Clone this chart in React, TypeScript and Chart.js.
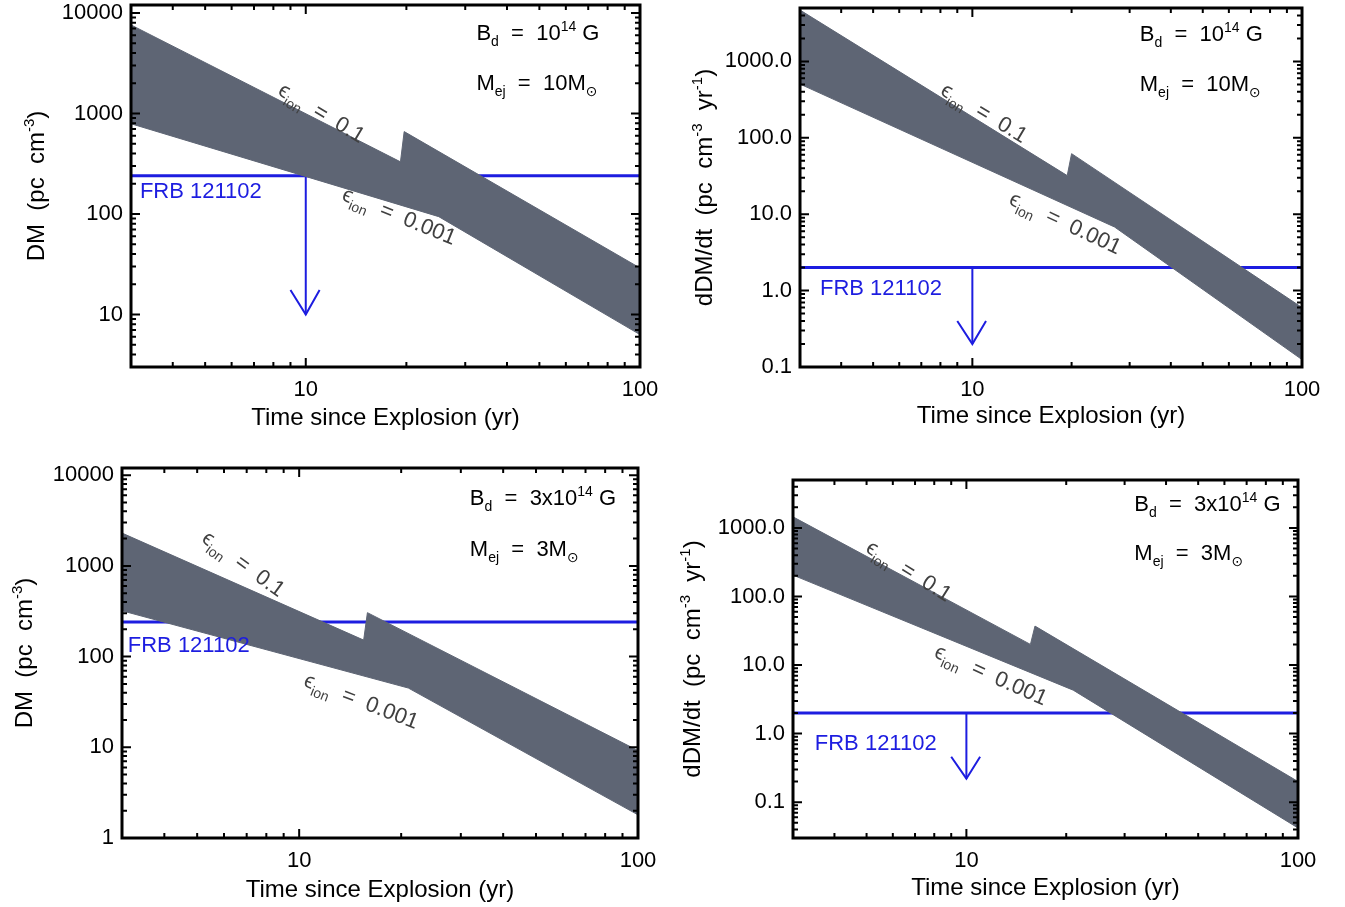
import React, { useEffect, useRef } from 'react';
import { Chart, registerables } from 'chart.js';

Chart.register(...registerables);

const FONT = '"Liberation Sans", "DejaVu Sans", Arial, sans-serif';
const BAND = '#5e6574';
const BLUE = '#1d1de0';
const INK = '#000000';
const EPS_INK = '#404040';

// ---------------- data ----------------
const timeMin = 3;
const timeMax = 100;
const timeTickLabels = [10, 100];

const dmTicksTop = [10, 100, 1000, 10000];
const dmTicksBottom = [1, 10, 100, 1000, 10000];
const rateTicks = [0.1, 1, 10, 100, 1000];

// Panel a: Bd = 1e14 G, Mej = 10 Msun, DM
const aUpperT = [3, 19.2, 19.7, 100];
const aUpperDM = [7600, 330, 660, 29];
const aLowerT = [3, 25, 100];
const aLowerDM = [790, 94, 6.3];

// Panel b: Bd = 1e14 G, Mej = 10 Msun, dDM/dt
const bUpperT = [3, 19.4, 20, 100];
const bUpperRate = [4700, 32, 62, 0.6];
const bLowerT = [3, 27, 100];
const bLowerRate = [505, 6.8, 0.125];

// Panel c: Bd = 3e14 G, Mej = 3 Msun, DM
const cUpperT = [3, 15.5, 15.9, 100];
const cUpperDM = [2300, 152, 305, 9.2];
const cLowerT = [3, 21, 100];
const cLowerDM = [320, 45, 1.8];

// Panel d: Bd = 3e14 G, Mej = 3 Msun, dDM/dt
const dUpperT = [3, 15.6, 16.1, 100];
const dUpperRate = [1450, 20, 37, 0.2];
const dLowerT = [3, 21, 100];
const dLowerRate = [205, 4.3, 0.042];

// FRB 121102 limits and arrows [tip, wing level]
const frbDM = 240;
const frbRate = 2.0;
const arrowT = 10;
const arrowWingT = [9.0, 11.0];
const aArrow = [10, 17.5];
const bArrow = [0.2, 0.4];
const cArrow = [100, 180];
const dArrow = [0.22, 0.46];

// ---------------- text ----------------
type Pc = [string, number]; // 0 normal, 1 superscript, -1 subscript
const bdA: Pc[] = [['B', 0], ['d', -1], ['  =  10', 0], ['14', 1], [' G', 0]];
const mejA: Pc[] = [['M', 0], ['ej', -1], ['  =  10M', 0], ['\u2299', -1]];
const bdC: Pc[] = [['B', 0], ['d', -1], ['  =  3x10', 0], ['14', 1], [' G', 0]];
const mejC: Pc[] = [['M', 0], ['ej', -1], ['  =  3M', 0], ['\u2299', -1]];
const epsHigh: Pc[] = [['\u03F5', 0], ['ion', -1], ['  =  0.1', 0]];
const epsLow: Pc[] = [['\u03F5', 0], ['ion', -1], ['  =  0.001', 0]];
const dmTitle: Pc[] = [['DM  (pc  cm', 0], ['-3', 1], [')', 0]];
const rateTitle: Pc[] = [['dDM/dt  (pc  cm', 0], ['-3', 1], ['  yr', 0], ['-1', 1], [')', 0]];
const xTitle: Pc[] = [['Time since Explosion (yr)', 0]];
const frbText: Pc[] = [['FRB 121102', 0]];

type Anchor = { x: number; y: number; rot?: number };

type Panel = {
  key: string;
  left: number; top: number; w: number; h: number;
  area: { l: number; t: number; r: number; b: number };
  yMin: number; yMax: number; yTicks: number[]; yFmt: (v: number) => string;
  upperT: number[]; upperV: number[]; lowerT: number[]; lowerV: number[];
  frb: number; arrow: number[];
  yTitle: Pc[]; yTitleOff: number; xTitleOff: number;
  bd: Pc[]; mej: Pc[];
  bdAt: Anchor; mejAt: Anchor; frbAt: Anchor; eps1At: Anchor; eps2At: Anchor;
};

const intFmt = (v: number) => String(v);
const oneFmt = (v: number) => v.toFixed(1);

const panels: Panel[] = [
  {
    key: 'a', left: 0, top: 0, w: 672, h: 440,
    area: { l: 131, t: 5, r: 640, b: 367 },
    yMin: 3, yMax: 12000, yTicks: dmTicksTop, yFmt: intFmt,
    upperT: aUpperT, upperV: aUpperDM, lowerT: aLowerT, lowerV: aLowerDM,
    frb: frbDM, arrow: aArrow,
    yTitle: dmTitle, yTitleOff: 96, xTitleOff: 49,
    bd: bdA, mej: mejA,
    bdAt: { x: 32.4, y: 6460 }, mejAt: { x: 32.4, y: 2056 }, frbAt: { x: 3.19, y: 173 },
    eps1At: { x: 11.2, y: 1033, rot: 31 }, eps2At: { x: 19.1, y: 97.6, rot: 22 },
  },
  {
    key: 'b', left: 672, top: 0, w: 673, h: 440,
    area: { l: 128, t: 8, r: 630, b: 367 },
    yMin: 0.1, yMax: 5000, yTicks: rateTicks, yFmt: oneFmt,
    upperT: bUpperT, upperV: bUpperRate, lowerT: bLowerT, lowerV: bLowerRate,
    frb: frbRate, arrow: bArrow,
    yTitle: rateTitle, yTitleOff: 97, xTitleOff: 47,
    bd: bdA, mej: mejA,
    bdAt: { x: 32.2, y: 2355 }, mejAt: { x: 32.2, y: 521 }, frbAt: { x: 3.45, y: 1.11 },
    eps1At: { x: 10.9, y: 218, rot: 31 }, eps2At: { x: 19.2, y: 7.9, rot: 25 },
  },
  {
    key: 'c', left: 0, top: 440, w: 672, h: 467,
    area: { l: 122, t: 28, r: 638, b: 398 },
    yMin: 1, yMax: 12000, yTicks: dmTicksBottom, yFmt: intFmt,
    upperT: cUpperT, upperV: cUpperDM, lowerT: cLowerT, lowerV: cLowerDM,
    frb: frbDM, arrow: cArrow,
    yTitle: dmTitle, yTitleOff: 99, xTitleOff: 50,
    bd: bdC, mej: mejC,
    bdAt: { x: 31.9, y: 5741 }, mejAt: { x: 31.9, y: 1574 }, frbAt: { x: 3.12, y: 138 },
    eps1At: { x: 6.88, y: 1076, rot: 36 }, eps2At: { x: 15.3, y: 33.2, rot: 21 },
  },
  {
    key: 'd', left: 672, top: 440, w: 673, h: 467,
    area: { l: 121, t: 40, r: 626, b: 398 },
    yMin: 0.03, yMax: 5000, yTicks: rateTicks, yFmt: oneFmt,
    upperT: dUpperT, upperV: dUpperRate, lowerT: dLowerT, lowerV: dLowerRate,
    frb: frbRate, arrow: dArrow,
    yTitle: rateTitle, yTitleOff: 102, xTitleOff: 48,
    bd: bdC, mej: mejC,
    bdAt: { x: 32.1, y: 2307 }, mejAt: { x: 32.1, y: 446 }, frbAt: { x: 3.49, y: 0.753 },
    eps1At: { x: 6.74, y: 243, rot: 32 }, eps2At: { x: 11.9, y: 7.4, rot: 24 },
  },
];

// ---------------- drawing helpers ----------------
function fontFor(size: number, kind: number) {
  const s = kind === 0 ? size : Math.round(size * 0.64);
  return `${s}px ${FONT}`;
}
function richWidth(ctx: CanvasRenderingContext2D, pcs: Pc[], size: number) {
  let w = 0;
  for (const [t, k] of pcs) {
    ctx.font = fontFor(size, k);
    w += ctx.measureText(t).width;
  }
  return w;
}
function drawRich(ctx: CanvasRenderingContext2D, pcs: Pc[], size: number, x: number, y: number, align: 'left' | 'center') {
  const w = richWidth(ctx, pcs, size);
  let cx = align === 'center' ? x - w / 2 : x;
  const base = y + size * 0.36;
  ctx.textBaseline = 'alphabetic';
  ctx.textAlign = 'left';
  for (const [t, k] of pcs) {
    ctx.font = fontFor(size, k);
    const dy = k === 1 ? -size * 0.42 : k === -1 ? size * 0.28 : 0;
    ctx.fillText(t, cx, base + dy);
    cx += ctx.measureText(t).width;
  }
}
function logTicks(min: number, max: number) {
  const out: { v: number; major: boolean }[] = [];
  const k0 = Math.floor(Math.log10(min));
  const k1 = Math.ceil(Math.log10(max));
  for (let k = k0; k <= k1; k++) {
    for (let m = 1; m <= 9; m++) {
      const v = m * Math.pow(10, k);
      if (v > min * 1.0001 && v < max * 0.9999) out.push({ v, major: m === 1 });
    }
  }
  return out;
}

const MAJ = 9;
const MIN = 5;

function decorPlugin(p: Panel) {
  return {
    id: 'decor_' + p.key,
    afterDatasetsDraw(chart: any) {
      const { ctx, chartArea: a } = chart;
      const x = chart.scales.x;
      const y = chart.scales.y;
      ctx.save();
      // inward ticks on all four sides
      ctx.strokeStyle = INK;
      ctx.lineWidth = 2;
      ctx.beginPath();
      for (const t of logTicks(timeMin, timeMax)) {
        const px = x.getPixelForValue(t.v);
        const len = t.major ? MAJ : MIN;
        ctx.moveTo(px, a.bottom);
        ctx.lineTo(px, a.bottom - len);
        ctx.moveTo(px, a.top);
        ctx.lineTo(px, a.top + len);
      }
      for (const t of logTicks(p.yMin, p.yMax)) {
        const py = y.getPixelForValue(t.v);
        const len = t.major ? MAJ : MIN;
        ctx.moveTo(a.left, py);
        ctx.lineTo(a.left + len, py);
        ctx.moveTo(a.right, py);
        ctx.lineTo(a.right - len, py);
      }
      ctx.stroke();
      // frame
      ctx.lineWidth = 3;
      ctx.strokeRect(a.left, a.top, a.right - a.left, a.bottom - a.top);

      const at = (q: Anchor) => [x.getPixelForValue(q.x), y.getPixelForValue(q.y)];

      // labels
      ctx.fillStyle = INK;
      let [tx, ty] = at(p.bdAt);
      drawRich(ctx, p.bd, 22, tx, ty, 'left');
      [tx, ty] = at(p.mejAt);
      drawRich(ctx, p.mej, 22, tx, ty, 'left');

      ctx.fillStyle = BLUE;
      [tx, ty] = at(p.frbAt);
      drawRich(ctx, frbText, 22, tx, ty, 'left');

      ctx.fillStyle = EPS_INK;
      for (const [q, pcs] of [[p.eps1At, epsHigh], [p.eps2At, epsLow]] as [Anchor, Pc[]][]) {
        const [ex, ey] = at(q);
        ctx.save();
        ctx.translate(ex, ey);
        ctx.rotate(((q.rot || 0) * Math.PI) / 180);
        drawRich(ctx, pcs, 22, 0, 0, 'center');
        ctx.restore();
      }

      // axis titles
      ctx.fillStyle = INK;
      drawRich(ctx, xTitle, 24, (a.left + a.right) / 2, a.bottom + p.xTitleOff, 'center');
      ctx.save();
      ctx.translate(a.left - p.yTitleOff, (a.top + a.bottom) / 2);
      ctx.rotate(-Math.PI / 2);
      drawRich(ctx, p.yTitle, 24, 0, 0, 'center');
      ctx.restore();

      ctx.restore();
    },
  };
}

const pts = (xs: number[], ys: number[]) => xs.map((x, i) => ({ x, y: ys[i] }));

function buildConfig(p: Panel): any {
  const zeroPad = (s: any) => {
    s.paddingLeft = 0;
    s.paddingRight = 0;
    s.paddingTop = 0;
    s.paddingBottom = 0;
  };
  return {
    type: 'scatter',
    data: {
      datasets: [
        {
          data: pts(p.upperT, p.upperV), showLine: true, fill: '+1',
          backgroundColor: BAND, borderColor: BAND, borderWidth: 1, pointRadius: 0, tension: 0,
        },
        {
          data: pts(p.lowerT, p.lowerV), showLine: true, fill: false,
          backgroundColor: BAND, borderColor: BAND, borderWidth: 1, pointRadius: 0, tension: 0,
        },
        {
          data: [{ x: timeMin, y: p.frb }, { x: timeMax, y: p.frb }], showLine: true, fill: false,
          borderColor: BLUE, borderWidth: 3, pointRadius: 0,
        },
        {
          data: [{ x: arrowT, y: p.frb }, { x: arrowT, y: p.arrow[0] }], showLine: true, fill: false,
          borderColor: BLUE, borderWidth: 2, pointRadius: 0,
        },
        {
          data: [
            { x: arrowWingT[0], y: p.arrow[1] },
            { x: arrowT, y: p.arrow[0] },
            { x: arrowWingT[1], y: p.arrow[1] },
          ],
          showLine: true, fill: false, borderColor: BLUE, borderWidth: 2, pointRadius: 0,
        },
      ],
    },
    options: {
      animation: false,
      responsive: false,
      events: [],
      layout: { padding: { left: 0, top: p.area.t, right: p.w - p.area.r, bottom: 0 } },
      plugins: { legend: { display: false }, tooltip: { enabled: false }, title: { display: false } },
      scales: {
        x: {
          type: 'logarithmic', position: 'bottom', min: timeMin, max: timeMax,
          grid: { display: false, drawTicks: false }, border: { display: false },
          ticks: {
            autoSkip: false, maxRotation: 0, minRotation: 0, padding: 10, color: INK,
            font: { family: FONT, size: 22 }, callback: (v: number) => String(v),
          },
          afterBuildTicks: (s: any) => { s.ticks = timeTickLabels.map((v) => ({ value: v })); },
          afterFit: (s: any) => { s.height = p.h - p.area.b; zeroPad(s); },
        },
        y: {
          type: 'logarithmic', position: 'left', min: p.yMin, max: p.yMax,
          grid: { display: false, drawTicks: false }, border: { display: false },
          ticks: {
            autoSkip: false, padding: 8, color: INK,
            font: { family: FONT, size: 22 }, callback: (v: number) => p.yFmt(v),
          },
          afterBuildTicks: (s: any) => { s.ticks = p.yTicks.map((v) => ({ value: v })); },
          afterFit: (s: any) => { s.width = p.area.l; zeroPad(s); },
        },
      },
    },
    plugins: [decorPlugin(p)],
  };
}

function PanelChart({ p }: { p: Panel }) {
  const ref = useRef<HTMLCanvasElement>(null);
  useEffect(() => {
    const chart = new Chart(ref.current as HTMLCanvasElement, buildConfig(p));
    return () => chart.destroy();
  }, [p]);
  return (
    <canvas
      ref={ref}
      width={p.w}
      height={p.h}
      style={{ position: 'absolute', left: p.left, top: p.top, width: p.w, height: p.h }}
    />
  );
}

export default function App() {
  return (
    <div style={{ position: 'absolute', left: 0, top: 0, width: 1345, height: 907, background: '#ffffff', overflow: 'hidden' }}>
      {panels.map((p) => (
        <PanelChart key={p.key} p={p} />
      ))}
    </div>
  );
}
